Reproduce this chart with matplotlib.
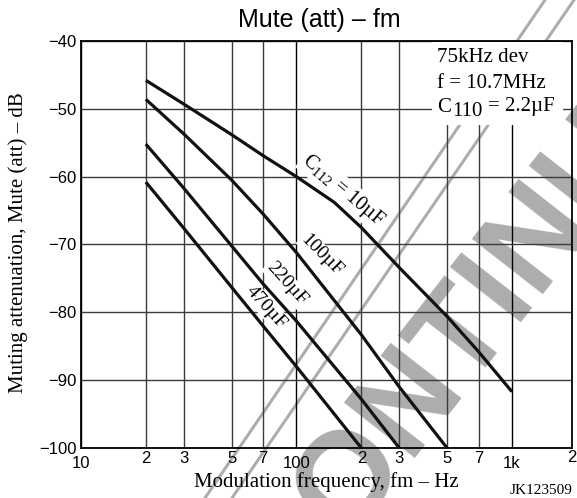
import matplotlib
matplotlib.use('Agg')
import matplotlib.pyplot as plt
from matplotlib.lines import Line2D
from matplotlib.patches import Rectangle

# (fm in Hz, attenuation in dB)
fm_10u = [20, 30, 50, 70, 100, 150, 200, 300, 500, 700, 1000]
att_10u = [-45.8, -49.3, -53.8, -56.9, -60.0, -63.8, -67.5, -73.4, -80.6, -85.8, -91.7]

fm_100u = [20, 30, 50, 70, 100, 200, 300, 500]
att_100u = [-48.6, -53.7, -60.5, -65.5, -71.2, -83.3, -91.0, -100.0]

fm_220u = [20, 30, 50, 70, 100, 200, 300]
att_220u = [-55.2, -61.7, -70.2, -75.8, -81.3, -92.8, -100.0]

fm_470u = [20, 30, 50, 70, 100, 200]
att_470u = [-60.8, -67.6, -76.3, -82.0, -88.0, -100.0]

y_ticks = [-100, -90, -80, -70, -60, -50, -40]
x_major = [10, 100, 1000]
x_major_labels = ['10', '100', '1k']
x_minor = [20, 30, 50, 70, 200, 300, 500, 700]
x_minor_labels = ['2', '3', '5', '7', '2', '3', '5', '7']

plt.rcParams['font.family'] = ['Liberation Sans', 'DejaVu Sans']
plt.rcParams['mathtext.fontset'] = 'custom'
plt.rcParams['mathtext.rm'] = 'Liberation Serif'
plt.rcParams['mathtext.it'] = 'Liberation Serif:italic'

W, H = 577, 498


def fx(px):
    return px / W


def fy(py):
    return 1 - py / H


fig = plt.figure(figsize=(5.77, 4.98), dpi=100)
fig.patch.set_facecolor('white')
ax = fig.add_axes([fx(81), fy(448), 491 / W, 407 / H])
ax.patch.set_alpha(0)

# discontinued watermark behind everything
fig.text(fx(432), fy(372), 'DISCONTINUED', rotation=52, fontsize=93,
         fontweight='bold', color='#adadad', ha='center', va='center',
         rotation_mode='anchor', zorder=-5)
for x0, x1 in [(205, 545), (232, 574)]:
    fig.add_artist(Line2D([fx(x0), fx(x1)], [0, 1], color='#adadad',
                          lw=2.2, zorder=-4, transform=fig.transFigure))

ax.set_xscale('log')
ax.set_xlim(10, 1900)
ax.set_ylim(-100, -40)

ax.set_yticks(y_ticks)
ax.set_xticks(x_major, x_major_labels)
ax.set_xticks(x_minor, x_minor_labels, minor=True)
ax.tick_params(axis='both', which='both', length=0, labelsize=12)
ax.tick_params(axis='x', which='major', pad=6)
ax.tick_params(axis='x', which='minor', pad=2)
ax.tick_params(axis='y', pad=3)
ax.text(1.0, -0.006, '2', transform=ax.transAxes, ha='center', va='top', fontsize=12)

ax.grid(True, which='major', axis='x', color='black', lw=1.0)
ax.grid(True, which='minor', axis='x', color='#3c3c3c', lw=1.0)
ax.grid(True, which='major', axis='y', color='#3c3c3c', lw=1.0)
for s in ax.spines.values():
    s.set_linewidth(1.3)

for fm, att in [(fm_10u, att_10u), (fm_100u, att_100u),
                (fm_220u, att_220u), (fm_470u, att_470u)]:
    ax.plot(fm, att, color='#111111', lw=2.3, zorder=4,
            solid_capstyle='butt', solid_joinstyle='round')

serif = ['Liberation Serif', 'DejaVu Serif']
box = dict(facecolor='white', edgecolor='none', pad=1.0)
ax.text(164, -62.0, r'C$_{\mathrm{112}}$ = 10µF', rotation=-40, family=serif,
        fontsize=14.5, ha='center', va='center', bbox=box, zorder=5)
ax.text(131, -71.6, '100µF', rotation=-45, family=serif, fontsize=14,
        ha='center', va='center', bbox=box, zorder=5)
ax.text(90, -75.8, '220µF', rotation=-48, family=serif, fontsize=14,
        ha='center', va='center', bbox=box, zorder=5)
ax.text(72.6, -79.3, '470µF', rotation=-48, family=serif, fontsize=14,
        ha='center', va='center', bbox=box, zorder=5)

# condition block, top right
fig.add_artist(Rectangle((fx(432), fy(125)), 131 / W, 83 / H, facecolor='white',
                         edgecolor='none', transform=fig.transFigure, zorder=1))
fig.text(fx(437), fy(58), '75kHz dev', family=serif, fontsize=15,
         ha='left', va='center', zorder=2)
fig.text(fx(437), fy(84), 'f = 10.7MHz', family=serif, fontsize=15,
         ha='left', va='center', zorder=2)
fig.text(fx(437), fy(107), 'C', family=serif, fontsize=15,
         ha='left', va='center', zorder=2)
fig.text(fx(452), fy(112), '110', family=serif, fontsize=15,
         ha='left', va='center', zorder=2)
fig.text(fx(488), fy(107), '= 2.2µF', family=serif, fontsize=15,
         ha='left', va='center', zorder=2)

fig.text(fx(319), fy(20), 'Mute (att) – fm', fontsize=18,
         ha='center', va='center')
fig.text(fx(18), fy(243), 'Muting attenuation, Mute (att) – dB',
         family=serif, fontsize=15, rotation=90, ha='center', va='center')
fig.text(fx(326), fy(482), 'Modulation frequency, fm – Hz',
         family=serif, fontsize=15, ha='center', va='center')
fig.text(fx(572), fy(490), 'JK123509', family=serif, fontsize=11,
         ha='right', va='center')

fig.savefig('out.png', dpi=100)
plt.close(fig)
